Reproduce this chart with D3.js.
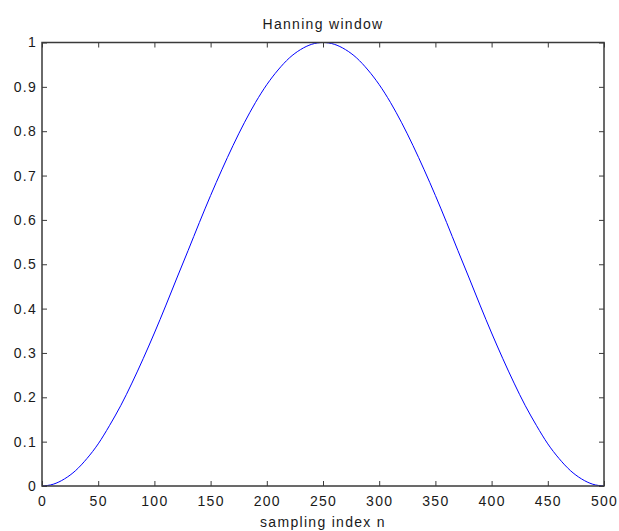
<!DOCTYPE html>
<html>
<head>
<meta charset="utf-8">
<script src="https://cdn.jsdelivr.net/npm/d3@7"></script>
<style>
body { margin:0; background:#fff; }
svg text { font-family: "Liberation Sans", Arial, sans-serif; fill:#1a1a1a; letter-spacing:1.3px; }
</style>
</head>
<body>
<svg id="chart" width="619" height="531"></svg>
<script>
// values every 10 samples
var sampleIndex = [0,10,20,30,40,50,60,70,80,90,100,110,120,130,140,150,160,170,180,190,200,
    210,220,230,240,250,260,270,280,290,300,310,320,330,340,350,360,370,380,390,400,
    410,420,430,440,450,460,470,480,490,500];
var windowValues = [0,0.004,0.016,0.035,0.062,0.095,0.136,0.181,0.232,0.287,0.345,
    0.406,0.469,0.531,0.594,0.655,0.713,0.768,0.819,0.865,0.905,
    0.938,0.965,0.984,0.996,1,0.996,0.984,0.965,0.938,0.905,
    0.865,0.819,0.768,0.713,0.655,0.594,0.531,0.469,0.406,0.345,
    0.287,0.232,0.181,0.136,0.095,0.062,0.035,0.016,0.004,0];
var xTicks = [0,50,100,150,200,250,300,350,400,450,500];
var yTicks = [0,0.1,0.2,0.3,0.4,0.5,0.6,0.7,0.8,0.9,1];
var titleText = "Hanning window";
var xLabelText = "sampling index n";

var plotLeft = 42, plotRight = 604, plotTop = 42.5, plotBottom = 486;
var svg = d3.select("svg#chart");
var x = d3.scaleLinear().domain([0,500]).range([plotLeft,plotRight]);
var y = d3.scaleLinear().domain([0,1]).range([plotBottom,plotTop]);
var tickLen = 5;
var axisColor = "#3a3a3a";

var styleAxis = function(g){
    g.select(".domain").remove();
    g.selectAll("line").attr("stroke",axisColor);
    g.selectAll("text").style("font-size","14px").attr("fill","#1a1a1a");
};

// curve
var data = sampleIndex.map(function(d,i){ return [d, windowValues[i]]; });
svg.append("path")
    .datum(data)
    .attr("fill","none")
    .attr("stroke","#0000ff")
    .attr("stroke-width",1)
    .attr("d", d3.line().x(function(d){return x(d[0])}).y(function(d){return y(d[1])}).curve(d3.curveMonotoneX));

// bottom / top axes
svg.append("g").attr("transform","translate(0,"+plotBottom+")")
    .call(d3.axisBottom(x).tickValues(xTicks).tickSizeInner(-tickLen).tickSizeOuter(0).tickPadding(10))
    .call(styleAxis);
svg.append("g").attr("transform","translate(0,"+plotTop+")")
    .call(d3.axisTop(x).tickValues(xTicks).tickSizeInner(-tickLen).tickSizeOuter(0).tickFormat(""))
    .call(styleAxis);
// left / right axes
svg.append("g").attr("transform","translate("+plotLeft+",0)")
    .call(d3.axisLeft(y).tickValues(yTicks).tickSizeInner(-tickLen).tickSizeOuter(0).tickPadding(5).tickFormat(d3.format("~g")))
    .call(styleAxis);
svg.append("g").attr("transform","translate("+plotRight+",0)")
    .call(d3.axisRight(y).tickValues(yTicks).tickSizeInner(-tickLen).tickSizeOuter(0).tickFormat(""))
    .call(styleAxis);

// box
svg.append("rect")
    .attr("x",plotLeft).attr("y",plotTop)
    .attr("width",plotRight-plotLeft).attr("height",plotBottom-plotTop)
    .attr("fill","none").attr("stroke",axisColor).attr("stroke-width",1.5);

svg.append("text").attr("x",(plotLeft+plotRight)/2).attr("y",29)
    .attr("text-anchor","middle").style("font-size","14px").text(titleText);
svg.append("text").attr("x",(plotLeft+plotRight)/2).attr("y",527)
    .attr("text-anchor","middle").style("font-size","14px").text(xLabelText);
</script>
</body>
</html>
